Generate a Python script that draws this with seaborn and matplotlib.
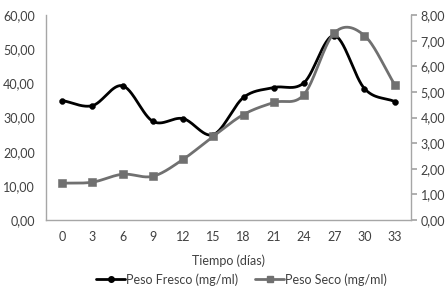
import numpy as np
import pandas as pd
import matplotlib
matplotlib.use("Agg")
import matplotlib.pyplot as plt
import seaborn as sns
from matplotlib.lines import Line2D

dias = [0, 3, 6, 9, 12, 15, 18, 21, 24, 27, 30, 33]
peso_fresco = [35.0, 33.5, 39.3, 28.9, 29.7, 25.0, 35.9, 38.8, 40.2, 54.0, 38.5, 34.7]
peso_seco = [1.44, 1.48, 1.79, 1.71, 2.37, 3.27, 4.12, 4.59, 4.90, 7.30, 7.20, 5.29]
left_ticks = [0, 10, 20, 30, 40, 50, 60]
right_ticks = [0, 1, 2, 3, 4, 5, 6, 7, 8]


def smooth(x, y, n=30):
    x = np.asarray(x, float)
    y = np.asarray(y, float)
    m = np.zeros_like(y)
    m[1:-1] = (y[2:] - y[:-2]) / 2
    m[0] = y[1] - y[0]
    m[-1] = y[-1] - y[-2]
    xs, ys = [], []
    for i in range(len(x) - 1):
        t = np.linspace(0, 1, n, endpoint=False)
        h00 = 2 * t**3 - 3 * t**2 + 1
        h10 = t**3 - 2 * t**2 + t
        h01 = -2 * t**3 + 3 * t**2
        h11 = t**3 - t**2
        xs.append(x[i] + t * (x[i + 1] - x[i]))
        ys.append(h00 * y[i] + h10 * m[i] + h01 * y[i + 1] + h11 * m[i + 1])
    xs.append([x[-1]])
    ys.append([y[-1]])
    return np.concatenate(xs), np.concatenate(ys)


sns.set_theme(style="white")
plt.rcParams["font.family"] = ["Lato", "DejaVu Sans"]

fig = plt.figure(figsize=(4.47, 2.90), dpi=100)
ax = fig.add_axes([0.103, 0.241, 0.816, 0.707])
ax2 = ax.twinx()

c_f = "#000000"
c_s = "#707070"

xf, yf = smooth(dias, peso_fresco)
xs_, ys_ = smooth(dias, peso_seco)
sns.lineplot(x=xf, y=yf, ax=ax, color=c_f, linewidth=2.0, sort=False)
sns.scatterplot(x=dias, y=peso_fresco, ax=ax, color=c_f, marker="o", s=18, edgecolor=c_f, zorder=5)
sns.lineplot(x=xs_, y=ys_, ax=ax2, color=c_s, linewidth=2.0, sort=False)
sns.scatterplot(x=dias, y=peso_seco, ax=ax2, color=c_s, marker="s", s=26, edgecolor=c_s, zorder=5)

ax.set_xlim(-1.6, 34.6)
ax.set_ylim(0, 60)
ax2.set_ylim(0, 8)
ax.set_xticks(dias)
ax.set_xticklabels([str(d) for d in dias])
ax.set_yticks(left_ticks)
ax.set_yticklabels([f"{v:.2f}".replace(".", ",") for v in left_ticks])
ax2.set_yticks(right_ticks)
ax2.set_yticklabels([f"{v:.2f}".replace(".", ",") for v in right_ticks])

for a in (ax, ax2):
    a.grid(False)
    for s in a.spines.values():
        s.set_visible(False)
ax.spines["left"].set_visible(True)
ax.spines["bottom"].set_visible(True)
ax2.spines["right"].set_visible(True)
for s in (ax.spines["left"], ax.spines["bottom"], ax2.spines["right"]):
    s.set_color("#a6a6a6")
    s.set_linewidth(1.0)

ax.tick_params(axis="y", length=0, labelsize=9, labelcolor="#404040", pad=8)
ax.tick_params(axis="x", length=0, labelsize=9, labelcolor="#404040", pad=8)
ax2.tick_params(axis="y", direction="out", length=4, color="#a6a6a6", labelsize=9,
                labelcolor="#404040", pad=3)

ax.set_xlabel("Tiempo (días)", fontsize=9, color="#404040", labelpad=8)
ax.set_ylabel("")
ax2.set_ylabel("")

handles = [
    Line2D([0], [0], color=c_f, lw=2, marker="o", markersize=4),
    Line2D([0], [0], color=c_s, lw=2, marker="s", markersize=4.5),
]
fig.legend(handles, ["Peso Fresco (mg/ml)", "Peso Seco (mg/ml)"], loc="center",
           bbox_to_anchor=(0.54, 0.037), ncol=2, frameon=False, fontsize=9,
           handlelength=2.3, handletextpad=0.05, columnspacing=1.4,
           labelcolor="#404040")

fig.savefig("out.png", dpi=100)
